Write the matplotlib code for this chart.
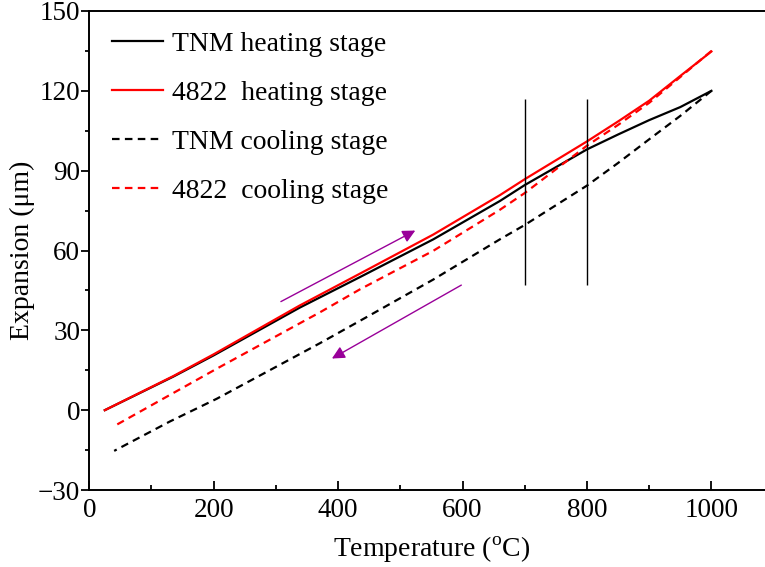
"""Thermal expansion of TNM and 4822 alloys: heating and cooling stages."""

import matplotlib
matplotlib.use("Agg")
import matplotlib.pyplot as plt

plt.rcParams["font.family"] = ["Liberation Serif", "DejaVu Serif"]
plt.rcParams["mathtext.fontset"] = "custom"
plt.rcParams["mathtext.rm"] = "Liberation Serif"

# temperature (deg C) and expansion (um)
tnm_heat_t = [25, 135, 200, 338, 435, 553, 660, 700, 800, 850, 900, 950, 1000]
tnm_heat_e = [0, 12.6, 20.6, 38.5, 50.0, 64.2, 78.6, 84.6, 98.0, 103.6, 109.0, 113.9, 120.0]

alloy_heat_t = [25, 135, 200, 338, 435, 553, 660, 700, 800, 850, 900, 950, 1000]
alloy_heat_e = [0, 12.8, 21.0, 39.3, 51.3, 66.0, 80.8, 86.8, 101.0, 108.5, 116.3, 125.6, 134.8]

tnm_cool_t = [1000, 950, 900, 850, 800, 700, 660, 553, 446, 371, 205, 130, 40]
tnm_cool_e = [120.0, 110.6, 101.8, 92.9, 84.4, 69.6, 64.2, 49.1, 35.0, 25.2, 4.3, -4.2, -15.3]

alloy_cool_t = [1000, 950, 900, 850, 800, 700, 660, 553, 435, 371, 338, 205, 40]
alloy_cool_e = [135.0, 125.2, 115.5, 107.2, 99.4, 81.6, 75.3, 59.9, 45.4, 36.8, 32.6, 15.6, -6.0]

marker_temps = [700, 800]
marker_span = (47, 117)

# heating / cooling direction arrows: (start T, start E, end T, end E)
heat_arrow = (308, 40.8, 524, 67.5)
cool_arrow = (598, 47.0, 390, 19.4)

fig = plt.figure(figsize=(7.65, 5.67), dpi=100)
ax = fig.add_axes([0.1167, 0.1358, 0.8946, 0.8448])

dash = (0, (3.4, 2.4))
ax.plot(tnm_heat_t, tnm_heat_e, color="black", lw=1.6, label="TNM heating stage")
ax.plot(alloy_heat_t, alloy_heat_e, color="red", lw=1.6, label="4822  heating stage")
ax.plot(tnm_cool_t, tnm_cool_e, color="black", lw=1.6, ls=dash, label="TNM cooling stage")
ax.plot(alloy_cool_t, alloy_cool_e, color="red", lw=1.6, ls=dash, label="4822  cooling stage")

ax.vlines(marker_temps, *marker_span, color="black", lw=1.0)

for x0, y0, x1, y1 in (heat_arrow, cool_arrow):
    ax.annotate("", xy=(x1, y1), xytext=(x0, y0),
                arrowprops=dict(arrowstyle="-|>", color="#990099", lw=1.0,
                                mutation_scale=19, shrinkA=0, shrinkB=0))

ax.set_xlim(0, 1100)
ax.set_ylim(-30, 150)
ax.set_xticks([0, 200, 400, 600, 800, 1000])
ax.set_xticks(range(100, 1100, 200), minor=True)
ax.set_yticks(range(-30, 151, 30))
ax.set_yticks(range(-15, 150, 30), minor=True)

ax.tick_params(axis="x", which="both", direction="in", labelsize=19.5, pad=6, width=1.3)
ax.tick_params(axis="x", which="major", length=6.2)
ax.tick_params(axis="x", which="minor", length=3.4)
ax.tick_params(axis="y", which="both", direction="out", labelsize=19.5, pad=1, width=1.3)
ax.tick_params(axis="y", which="major", length=5.5)
ax.tick_params(axis="y", which="minor", length=3.0)
for s in ax.spines.values():
    s.set_linewidth(1.4)

ax.set_xlabel("Temperature ($^{\\mathrm{o}}$C)", fontsize=20, labelpad=8)
ax.set_ylabel("Expansion (\u03bcm)", fontsize=20, labelpad=2)

ax.legend(loc="upper left", bbox_to_anchor=(0.033, 0.958), frameon=False,
          fontsize=20, handlelength=1.85, handletextpad=0.3, labelspacing=0.85,
          borderpad=0, borderaxespad=0)

fig.savefig("out.png", dpi=100)
